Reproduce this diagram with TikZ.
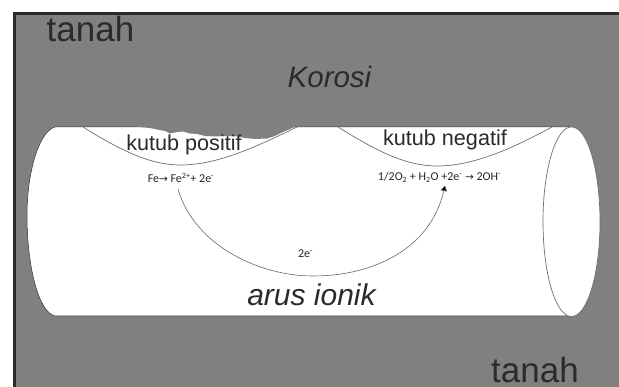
\documentclass[tikz,border=0pt]{standalone}
\usepackage{fontspec}
\setmainfont{Liberation Sans}
\newfontfamily\formulafont{Carlito}
\newfontfamily\arrowfont{DejaVu Sans}
\usetikzlibrary{arrows.meta}
\definecolor{soil}{HTML}{808080}
\definecolor{ink}{HTML}{2B2B2B}
\definecolor{edge}{HTML}{6E6E6E}
\newcommand{\rarr}{{\arrowfont\fontsize{10.5}{11}\selectfont→}}
\tikzset{
  x=1pt,y=-1pt,
  bigtext/.style={anchor=base,inner sep=0,text=ink,font=\fontsize{35}{37}\selectfont},
  poletext/.style={anchor=base,inner sep=0,text=ink,font=\fontsize{21.6}{24}\selectfont},
  slanttext/.style={anchor=base,inner sep=0,text=ink,font=\fontsize{30}{32}\selectfont\itshape},
  formula/.style={anchor=base,inner sep=0,text=black!85,font=\formulafont\fontsize{12}{14}\selectfont},
  pipeedge/.style={draw=edge,line width=0.7pt},
  current/.style={draw=black!60,line width=0.6pt},
}
\begin{document}
\begin{tikzpicture}
\useasboundingbox (0,0) rectangle (619,387);
\clip (0,0) rectangle (619,387);

% soil with its frame
\fill[soil] (14,13) rectangle (619,387);
\draw[ink,line width=3pt] (14,387) -- (14,13.3) -- (619,13.3);

% pipe body
\path[fill=white,draw=ink,line width=0.5pt]
  (55,127) .. controls (38,132) and (27,175) .. (27,215)
  .. controls (27,265) and (38,312) .. (55,316)
  -- (570,316) -- (570,127) -- cycle;
\path[fill=white,draw=edge,line width=0.7pt] (571.5,221.7) ellipse [x radius=28.5,y radius=94.8];

% anode and cathode zones
\draw[pipeedge] (83,127) .. controls (120,150) and (150,165) .. (180,165)
  .. controls (215,165) and (250,150) .. (297,127);
\draw[pipeedge] (338,127) .. controls (375,150) and (405,166) .. (437,166)
  .. controls (475,166) and (515,147) .. (552,127);

% corroded pit at the top of the anode
\fill[soil] (135,126) -- (140,127) -- (150,128) -- (157,129.5) -- (165,131) -- (170,133.5)
  -- (177,132) -- (183,131.5) -- (190,133.5) -- (197,134) -- (205,136) -- (215,136.5)
  -- (225,136) -- (237,136.5) -- (245,138) -- (255,139) -- (267,138.5) -- (275,136)
  -- (283,132) -- (290,129) -- (297,126) -- cycle;

% labels
\node[bigtext] (soilA) at (90.5,42) {tanah};
\node[bigtext] (soilB) at (535,383) {tanah};
\node[slanttext,font=\fontsize{29.5}{32}\selectfont\itshape] (title) at (329.5,88) {Korosi};
\node[poletext] (anode) at (184,151) {kutub positif};
\node[poletext] (cathode) at (445,146) {kutub negatif};
\node[slanttext] (ionic) at (311.5,306) {arus ionik};
\node[formula] (fe) at (181,183) {Fe\rarr{} Fe\textsuperscript{2+}+ 2e\textsuperscript{-}};
\node[formula] (oh) at (439.5,181) {1/2O\textsubscript{2} + H\textsubscript{2}O +2e\textsuperscript{-} \rarr{} 2OH\textsuperscript{-}};
\node[formula] (electrons) at (305.5,258) {2e\textsuperscript{-}};

% electron path under the pipe wall
\coordinate (arcstart) at ([xshift=-3pt,yshift=-6pt]fe.south);
\coordinate (low) at ([xshift=7.5pt,yshift=-18pt]electrons.base);
\coordinate (arcend) at ([xshift=5.5pt,yshift=-2.5pt]oh.south);
\draw[current,-{Triangle[length=5.5pt,width=6.5pt,fill=black]}]
  (arcstart) .. controls +(17,57) and +(-53,0) .. (low)
  .. controls +(62,0) and +(-14,62) .. (arcend);
\end{tikzpicture}
\end{document}
